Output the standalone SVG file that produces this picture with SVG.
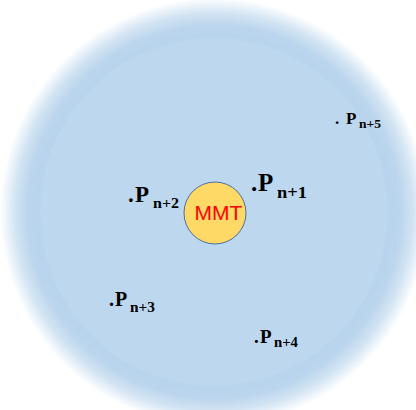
<svg xmlns="http://www.w3.org/2000/svg" width="416" height="410" viewBox="0 0 416 410">
<defs>
<radialGradient id="glow" cx="0.5" cy="0.5" r="0.5">
<stop offset="0" stop-color="#BDD7EE"/>
<stop offset="0.805" stop-color="#BDD7EE"/>
<stop offset="0.82" stop-color="#B8D3EC"/>
<stop offset="0.87" stop-color="#BBD5ED"/>
<stop offset="0.93" stop-color="#D2E4F3"/>
<stop offset="1" stop-color="#FFFFFF"/>
</radialGradient>
<style>
.lbl{font-family:"Liberation Serif","Times New Roman",serif;font-weight:bold;fill:#000}
.mmt{font-family:"Liberation Sans",Arial,sans-serif;fill:#FF0000;font-size:21px}
</style>
</defs>
<rect width="416" height="410" fill="#FFFFFF"/>
<circle cx="214" cy="212" r="214" fill="url(#glow)"/>
<g id="mmt">
<circle cx="215" cy="213" r="31" fill="#FFD966" stroke="#4A6FA5" stroke-width="1"/>
<text class="mmt" x="218.5" y="220" text-anchor="middle">MMT</text>
</g>
<g id="pn1"><text class="lbl" font-size="25"><tspan x="251" y="191">.</tspan><tspan x="258" y="191">P</tspan><tspan x="277" y="198" font-size="16" textLength="30" lengthAdjust="spacingAndGlyphs">n+1</tspan></text></g>
<g id="pn2"><text class="lbl" font-size="23"><tspan x="128" y="202">.</tspan><tspan x="135" y="202">P</tspan><tspan x="153" y="208" font-size="15" textLength="26" lengthAdjust="spacingAndGlyphs">n+2</tspan></text></g>
<g id="pn3"><text class="lbl" font-size="20"><tspan x="109" y="306">.</tspan><tspan x="115" y="306">P</tspan><tspan x="130" y="312" font-size="14" textLength="25" lengthAdjust="spacingAndGlyphs">n+3</tspan></text></g>
<g id="pn4"><text class="lbl" font-size="19"><tspan x="254" y="343">.</tspan><tspan x="260" y="343">P</tspan><tspan x="274" y="347" font-size="14" textLength="24" lengthAdjust="spacingAndGlyphs">n+4</tspan></text></g>
<g id="pn5"><text class="lbl" font-size="17"><tspan x="335" y="124">.</tspan><tspan x="346" y="124">P</tspan><tspan x="359" y="128" font-size="13" textLength="22" lengthAdjust="spacingAndGlyphs">n+5</tspan></text></g>
</svg>
